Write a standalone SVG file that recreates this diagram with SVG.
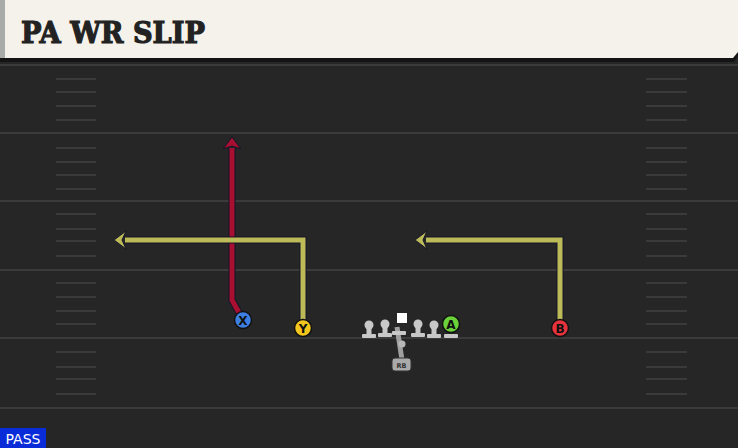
<svg xmlns="http://www.w3.org/2000/svg" width="738" height="448" viewBox="0 0 738 448">
<defs>
<style>
.yl{stroke:#3b3b3b;stroke-width:2}
.hs{stroke:#3a3a3a;stroke-width:2}
.rt-o{fill:none;stroke:#15152a;stroke-width:7;stroke-linejoin:miter}
.red{fill:none;stroke:#a80f30;stroke-width:5}
.yel{fill:none;stroke:#bdbb58;stroke-width:5}
.pl{stroke:#111;stroke-width:1.5}
.lt{font-family:"DejaVu Sans","Liberation Sans",sans-serif;font-weight:bold;font-size:12px;fill:#111;text-anchor:middle}
.ol{fill:#c8c8c8}
</style>
<g id="ol-shape">
<circle cx="0" cy="-6" r="4.5" class="ol"/>
<rect x="-2.5" y="-4" width="5" height="8" class="ol"/>
<rect x="-7" y="3" width="14" height="4" rx="1" class="ol"/>
</g>
</defs>
<rect width="738" height="448" fill="#262626"/>
<g id="field">
<line class="yl" x1="0" y1="65" x2="738" y2="65"/>
<line class="yl" x1="0" y1="133" x2="738" y2="133"/>
<line class="yl" x1="0" y1="201" x2="738" y2="201"/>
<line class="yl" x1="0" y1="270" x2="738" y2="270"/>
<line class="yl" x1="0" y1="338" x2="738" y2="338"/>
<line class="yl" x1="0" y1="408" x2="738" y2="408"/>
<g id="hash-left">
<line class="hs" x1="56" y1="79" x2="96" y2="79"/><line class="hs" x1="56" y1="92" x2="96" y2="92"/><line class="hs" x1="56" y1="106" x2="96" y2="106"/><line class="hs" x1="56" y1="120" x2="96" y2="120"/>
<line class="hs" x1="56" y1="148" x2="96" y2="148"/><line class="hs" x1="56" y1="162" x2="96" y2="162"/><line class="hs" x1="56" y1="175" x2="96" y2="175"/><line class="hs" x1="56" y1="189" x2="96" y2="189"/>
<line class="hs" x1="56" y1="214" x2="96" y2="214"/><line class="hs" x1="56" y1="229" x2="96" y2="229"/><line class="hs" x1="56" y1="241" x2="96" y2="241"/><line class="hs" x1="56" y1="256" x2="96" y2="256"/>
<line class="hs" x1="56" y1="283" x2="96" y2="283"/><line class="hs" x1="56" y1="297" x2="96" y2="297"/><line class="hs" x1="56" y1="311" x2="96" y2="311"/><line class="hs" x1="56" y1="324" x2="96" y2="324"/>
<line class="hs" x1="56" y1="352" x2="96" y2="352"/><line class="hs" x1="56" y1="367" x2="96" y2="367"/><line class="hs" x1="56" y1="379" x2="96" y2="379"/><line class="hs" x1="56" y1="394" x2="96" y2="394"/>
</g>
<g id="hash-right">
<line class="hs" x1="646" y1="79" x2="687" y2="79"/><line class="hs" x1="646" y1="92" x2="687" y2="92"/><line class="hs" x1="646" y1="106" x2="687" y2="106"/><line class="hs" x1="646" y1="120" x2="687" y2="120"/>
<line class="hs" x1="646" y1="148" x2="687" y2="148"/><line class="hs" x1="646" y1="162" x2="687" y2="162"/><line class="hs" x1="646" y1="175" x2="687" y2="175"/><line class="hs" x1="646" y1="189" x2="687" y2="189"/>
<line class="hs" x1="646" y1="214" x2="687" y2="214"/><line class="hs" x1="646" y1="229" x2="687" y2="229"/><line class="hs" x1="646" y1="241" x2="687" y2="241"/><line class="hs" x1="646" y1="256" x2="687" y2="256"/>
<line class="hs" x1="646" y1="283" x2="687" y2="283"/><line class="hs" x1="646" y1="297" x2="687" y2="297"/><line class="hs" x1="646" y1="311" x2="687" y2="311"/><line class="hs" x1="646" y1="324" x2="687" y2="324"/>
<line class="hs" x1="646" y1="352" x2="687" y2="352"/><line class="hs" x1="646" y1="367" x2="687" y2="367"/><line class="hs" x1="646" y1="379" x2="687" y2="379"/><line class="hs" x1="646" y1="394" x2="687" y2="394"/>
</g>
</g>
<g id="header">
<polygon points="0,0 738,0 738,56 734,62 0,62" fill="#141414"/>
<polygon points="0,0 738,0 738,52 733,58 0,58" fill="#f5f2eb"/>
<rect x="0" y="0" width="5" height="58" fill="#a9aba8"/>
<text x="21" y="43" font-family="'DejaVu Serif','Liberation Serif',serif" font-weight="bold" font-size="29" fill="#222" stroke="#222" stroke-width="1.2" textLength="184" lengthAdjust="spacingAndGlyphs">PA WR SLIP</text>
</g>
<g id="connectors">
<g id="route-x">
<path class="rt-o" d="M243,320 L232,300 L232,148"/>
<path class="red" d="M243,320 L232,300 L232,148"/>
<polygon points="232,137 241,149 232,146 223,149" fill="#a80f30" stroke="#15152a" stroke-width="1"/>
</g>
<g id="route-y">
<path class="rt-o" d="M303,328 L303,240 L125,240"/>
<path class="yel" d="M303,328 L303,240 L125,240"/>
<polygon points="114,240 126,231 122,240 126,249" fill="#bdbb58" stroke="#15152a" stroke-width="1"/>
</g>
<g id="route-b">
<path class="rt-o" d="M560,328 L560,240 L426,240"/>
<path class="yel" d="M560,328 L560,240 L426,240"/>
<polygon points="415,240 427,231 423,240 427,249" fill="#bdbb58" stroke="#15152a" stroke-width="1"/>
</g>
<g id="route-rb">
<path d="M397,327 L402,360" stroke="#a0a0a0" stroke-width="5" fill="none"/>
</g>
</g>
<g id="player-x"><circle cx="243" cy="320" r="8.5" fill="#3d7fe0" class="pl"/><text class="lt" x="243" y="324.5">X</text></g>
<g id="player-y"><circle cx="303" cy="328" r="8.5" fill="#f2c61c" class="pl"/><text class="lt" x="303" y="332.5">Y</text></g>
<g id="player-b"><circle cx="560" cy="328" r="8.5" fill="#e8333d" class="pl"/><text class="lt" x="560" y="332.5">B</text></g>
<g id="player-a"><circle cx="451" cy="324" r="8.5" fill="#6cd23a" class="pl"/><rect x="444" y="334" width="14" height="4" rx="1" class="ol"/><text class="lt" x="451" y="328.5">A</text></g>
<g id="lt"><use href="#ol-shape" x="369" y="331"/></g>
<g id="lg"><use href="#ol-shape" x="385" y="330"/></g>
<g id="rg"><use href="#ol-shape" x="418" y="330"/></g>
<g id="rt"><use href="#ol-shape" x="434" y="331"/></g>
<g id="center">
<rect x="392" y="331" width="14" height="4" rx="1" class="ol"/>
<rect x="397" y="313" width="10" height="10" fill="#ffffff"/>
<circle cx="402" cy="344" r="3.5" fill="#b8b8b8"/>
</g>
<g id="rb">
<rect x="392" y="358" width="19" height="13" rx="3" fill="#aaaaaa" stroke="#333" stroke-width="1"/>
<text x="401.5" y="368" font-family="'DejaVu Sans','Liberation Sans',sans-serif" font-size="6.5" font-weight="bold" fill="#333" text-anchor="middle">RB</text>
</g>
<g id="pass-label">
<rect x="0" y="428" width="46" height="20" fill="#0a2cd8"/>
<text x="23" y="444" font-family="'DejaVu Sans','Liberation Sans',sans-serif" font-size="14" fill="#ffffff" text-anchor="middle">PASS</text>
</g>
</svg>
